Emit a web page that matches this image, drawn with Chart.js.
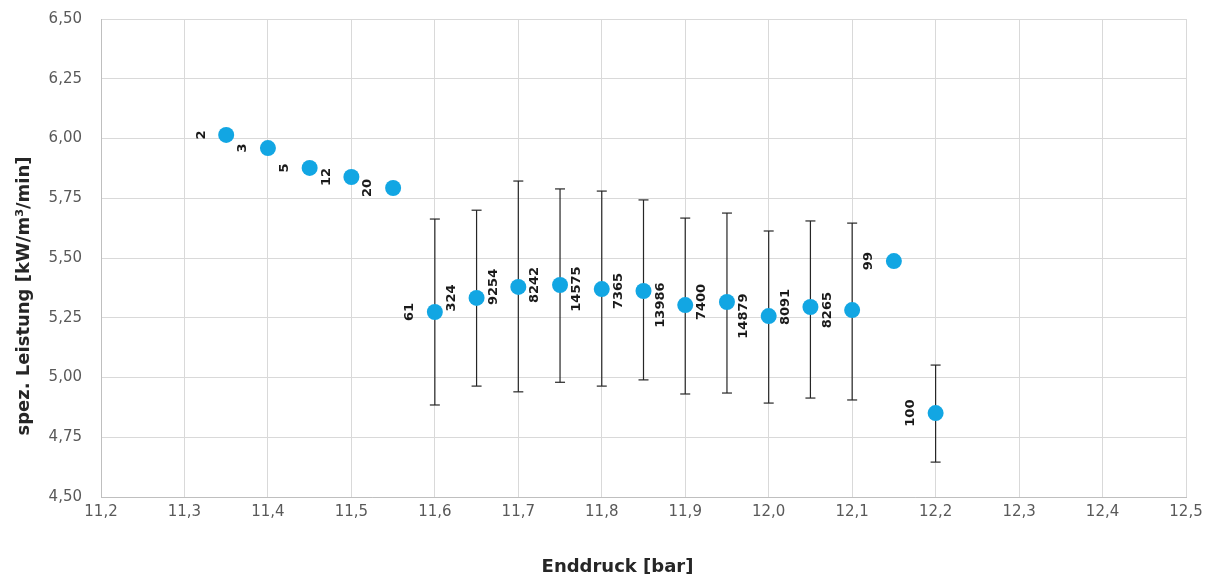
<!DOCTYPE html>
<html>
<head>
<meta charset="utf-8">
<script src="https://cdn.jsdelivr.net/npm/chart.js@4/dist/chart.umd.min.js"></script>
<style>
  html, body { margin: 0; padding: 0; background: #fff; }
  #wrap { width: 1219px; height: 584px; }
</style>
</head>
<body>
<div id="wrap"><canvas id="chartId"></canvas></div>
<script>
// Enddruck [bar] je Messpunkt
const druck = [11.35, 11.40, 11.45, 11.50, 11.55, 11.60, 11.65, 11.70, 11.75, 11.80, 11.85, 11.90, 11.95, 12.00, 12.05, 12.10, 12.15, 12.20];
// mittlere spez. Leistung [kW/m³/min]
const leistung = [6.015, 5.960, 5.877, 5.839, 5.793, 5.274, 5.333, 5.379, 5.387, 5.370, 5.362, 5.303, 5.316, 5.257, 5.295, 5.282, 5.487, 4.851];
// Streuung (oben / unten), null = kein Fehlerbalken
const oben  = [null, null, null, null, null, 5.663, 5.700, 5.822, 5.789, 5.780, 5.743, 5.667, 5.688, 5.613, 5.655, 5.646, null, 5.052];
const unten = [null, null, null, null, null, 4.885, 4.964, 4.940, 4.980, 4.964, 4.990, 4.931, 4.935, 4.893, 4.914, 4.906, null, 4.646];
// Anzahl Messwerte je Punkt
const anzahl = [2, 3, 5, 12, 20, 61, 324, 9254, 8242, 14575, 7365, 13986, 7400, 14879, 8091, 8265, 99, 100];

const yTicks = [4.50, 4.75, 5.00, 5.25, 5.50, 5.75, 6.00, 6.25, 6.50];

const xTitel = 'Enddruck [bar]';
const yTitel = 'spez. Leistung [kW/m³/min]';

const fontName = "'DejaVu Sans', sans-serif";

var punkte = druck.map((x, i) => ({ x: x, y: leistung[i] }));

// error bars as line segments, separated by gaps
var balken = [];
druck.forEach((x, i) => {
    if (oben[i] == null) return;
    balken.push({ x: x, y: unten[i] });
    balken.push({ x: x, y: oben[i] });
    balken.push({ x: x, y: null });
});

// counts, rotated, left of each point
const anzahlLabels = {
    id: 'anzahlLabels',
    afterDatasetsDraw(chart) {
        const ctx = chart.ctx;
        const meta = chart.getDatasetMeta(1);
        ctx.save();
        ctx.font = "bold 13px " + fontName;
        ctx.fillStyle = '#1a1a1a';
        ctx.textAlign = 'center';
        ctx.textBaseline = 'middle';
        meta.data.forEach((pt, i) => {
            ctx.save();
            ctx.translate(pt.x - 25, pt.y);
            ctx.rotate(-Math.PI / 2);
            ctx.fillText(String(anzahl[i]), 0, 0);
            ctx.restore();
        });
        ctx.restore();
    }
};

// axis titles, a bit off centre like in the Excel original
const achsenTitel = {
    id: 'achsenTitel',
    afterDraw(chart) {
        const ctx = chart.ctx;
        const area = chart.chartArea;
        ctx.save();
        ctx.font = "bold 18px " + fontName;
        ctx.fillStyle = '#262626';
        ctx.textAlign = 'center';
        ctx.textBaseline = 'middle';
        ctx.fillText(xTitel, (area.left + area.right) / 2 - 26, chart.height - 17);
        ctx.translate(24, (area.top + area.bottom) / 2 + 38);
        ctx.rotate(-Math.PI / 2);
        ctx.fillText(yTitel, 0, 0);
        ctx.restore();
    }
};

var chrt = document.getElementById("chartId").getContext("2d");

var scatterChart = new Chart(chrt, {
    type: 'scatter',
    data: {
        datasets: [{
            label: 'Streuung',
            data: balken,
            showLine: true,
            spanGaps: false,
            borderColor: '#262626',
            borderWidth: 1.2,
            pointStyle: 'line',
            pointRadius: 5,
            pointBorderColor: '#262626',
            pointBorderWidth: 1.2,
            order: 2
        }, {
            label: 'spez. Leistung',
            data: punkte,
            pointRadius: 8,
            pointBackgroundColor: '#12a6e3',
            pointBorderColor: '#12a6e3',
            pointBorderWidth: 0,
            order: 1
        }]
    },
    options: {
        responsive: true,
        maintainAspectRatio: false,
        animation: false,
        layout: { padding: { top: 19, right: 33, left: 0, bottom: 0 } },
        plugins: {
            legend: { display: false },
            tooltip: { enabled: false }
        },
        scales: {
            x: {
                type: 'linear',
                min: 11.2,
                max: 12.5,
                afterFit: s => { s.height = 87; },
                ticks: {
                    stepSize: 0.1,
                    padding: 6,
                    color: '#595959',
                    font: { family: fontName, size: 15 },
                    callback: v => v.toFixed(1).replace('.', ',')
                },
                grid: { color: '#d9d9d9', drawTicks: false },
                border: { color: '#bfbfbf' }
            },
            y: {
                min: 4.5,
                max: 6.5,
                afterFit: s => { s.width = 101; s.paddingTop = 0; s.paddingBottom = 0; },
                afterBuildTicks: s => { s.ticks = yTicks.map(v => ({ value: v })); },
                ticks: {
                    padding: 19,
                    color: '#595959',
                    font: { family: fontName, size: 15 },
                    callback: v => v.toFixed(2).replace('.', ',')
                },
                grid: { color: '#d9d9d9', drawTicks: false },
                border: { color: '#bfbfbf' }
            }
        }
    },
    plugins: [anzahlLabels, achsenTitel]
});
</script>
</body>
</html>
